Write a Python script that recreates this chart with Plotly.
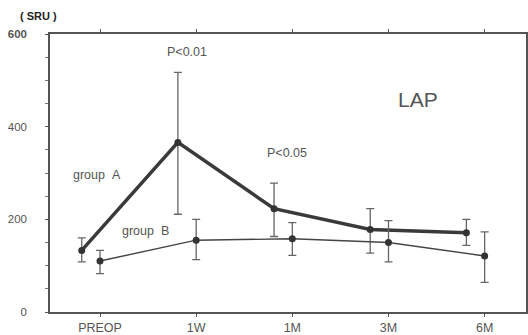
import plotly.graph_objects as go

categories = ["PREOP", "1W", "1M", "3M", "6M"]
group_a = [133, 366, 223, 178, 171]
group_a_up = [160, 517, 278, 223, 200]
group_a_lo = [108, 211, 163, 127, 144]
group_b = [110, 155, 158, 150, 121]
group_b_up = [133, 200, 193, 197, 173]
group_b_lo = [83, 113, 122, 108, 64]
y_ticks = [0, 200, 400, 600]

xb = list(range(len(categories)))
xa = [x - 0.19 for x in xb]

fig = go.Figure()
fig.add_trace(go.Scatter(
    x=xa, y=group_a, mode="lines+markers",
    line=dict(color="#3a3a3a", width=3.5),
    marker=dict(color="#333", size=7),
    error_y=dict(type="data", symmetric=False,
                 array=[u - v for u, v in zip(group_a_up, group_a)],
                 arrayminus=[v - l for v, l in zip(group_a, group_a_lo)],
                 color="#666", thickness=1.3, width=4),
    showlegend=False))
fig.add_trace(go.Scatter(
    x=xb, y=group_b, mode="lines+markers",
    line=dict(color="#444", width=1.4),
    marker=dict(color="#333", size=7),
    error_y=dict(type="data", symmetric=False,
                 array=[u - v for u, v in zip(group_b_up, group_b)],
                 arrayminus=[v - l for v, l in zip(group_b, group_b_lo)],
                 color="#666", thickness=1.3, width=4),
    showlegend=False))

L, R, T, B = 50, 526, 34, 312
font = dict(family="Liberation Sans, Arial", color="#555", size=11)
fig.update_layout(
    width=528, height=335,
    margin=dict(l=L, r=528 - R, t=T, b=335 - B),
    paper_bgcolor="white", plot_bgcolor="white",
    font=font,
    xaxis=dict(range=[-0.52, 4.43], tickvals=xb, ticktext=categories,
               showgrid=False, zeroline=False, showline=True, linecolor="#555",
               linewidth=1.5, mirror="ticks", ticks="outside", ticklen=3,
               tickcolor="#555", tickfont=dict(size=12.5, color="#555"),
               automargin=False),
    yaxis=dict(range=[0, 600], tickvals=y_ticks,
               ticktext=["0", "200", "400", "<b>600</b>"],
               showgrid=False, zeroline=False, showline=True, linecolor="#555",
               linewidth=1.5, mirror=True, ticks="outside", ticklen=3,
               tickcolor="#555", ticklabelstandoff=16,
               tickfont=dict(size=11.5, color="#555"), automargin=False,
               minor=dict(dtick=50, ticks="outside", ticklen=3, tickcolor="#777")),
)


def px2paper(px, py):
    return (px - L) / (R - L), (B - py) / (B - T)


NB = "\u00a0"
ann = [
    ("P<0.01", 187, 52, 12.5, "#555", False),
    ("P<0.05", 287, 153, 12.5, "#555", False),
    ("LAP", 418, 100, 21, "#555", False),
    ("group" + NB * 2 + "A", 97, 175, 12.5, "#555", False),
    ("group" + NB * 2 + "B", 145, 231, 12.5, "#555", False),
    ("(" + NB + "SRU" + NB + ")", 38, 16, 11, "#222", True),
]
for t, px, py, s, c, b in ann:
    ax, ay = px2paper(px, py)
    fig.add_annotation(text=f"<b>{t}</b>" if b else t, x=ax, y=ay,
                       xref="paper", yref="paper", showarrow=False,
                       xanchor="center", yanchor="middle",
                       font=dict(size=s, color=c))

fig.write_html("out.html", config={"displayModeBar": False},
               post_script="document.body.style.margin='0';")
